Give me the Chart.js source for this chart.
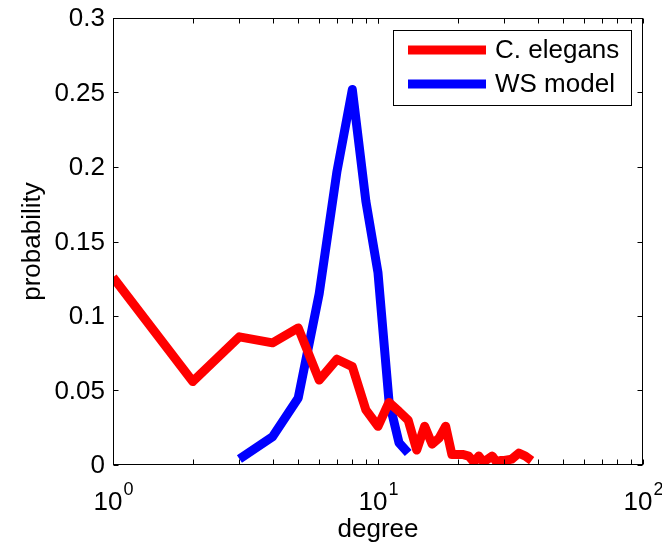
<!DOCTYPE html>
<html>
<head>
<meta charset="utf-8">
<script src="https://cdn.jsdelivr.net/npm/chart.js@4/dist/chart.umd.min.js"></script>
<style>
  html, body { margin: 0; padding: 0; background: #fff; }
  #wrap { width: 662px; height: 545px; }
</style>
</head>
<body>
<div id="wrap"><canvas id="chart" width="662" height="545"></canvas></div>
<script>
// Degree distribution: C. elegans neural network vs. Watts-Strogatz model
const degreeCE = [1, 2, 3, 4, 5, 6, 7, 8, 9, 10, 11, 12, 13, 14, 15, 16, 17, 18, 19, 20, 21, 22, 23, 24, 25, 26, 27, 28, 29, 30, 32, 34, 36, 38];
const probCE   = [0.126, 0.056, 0.086, 0.082, 0.092, 0.057, 0.071, 0.066, 0.037, 0.026, 0.042, 0.036, 0.030, 0.010, 0.026, 0.014, 0.018, 0.026, 0.007, 0.007, 0.007, 0.006, 0.002, 0.006, 0.002, 0.004, 0.006, 0.002, 0.003, 0.003, 0.004, 0.008, 0.006, 0.003];

const degreeWS = [3, 4, 5, 6, 7, 8, 9, 10, 11, 12, 13];
const probWS   = [0.004, 0.019, 0.045, 0.115, 0.197, 0.252, 0.177, 0.129, 0.043, 0.015, 0.008];

const seriesNames  = ['C. elegans', 'WS model'];
const seriesColors = ['#ff0000', '#0000ff'];

const yTickValues = [0, 0.05, 0.1, 0.15, 0.2, 0.25, 0.3];
const yTickLabels = ['0', '0.05', '0.1', '0.15', '0.2', '0.25', '0.3'];
const xDecades    = [1, 10, 100];
const xExponents  = ['0', '1', '2'];
const xTitle = 'degree';
const yTitle = 'probability';

const FONT = "'Liberation Sans', Arial, Helvetica, sans-serif";

const toPoints = (xs, ys) => xs.map((v, i) => ({ x: v, y: ys[i] }));

// Axes box, inward ticks, tick labels, titles and legend
const framePlugin = {
  id: 'frame',
  afterDraw(chart) {
    const { ctx, chartArea: a, scales: { x, y } } = chart;
    const L = Math.round(a.left) + 0.5, R = Math.round(a.right) - 0.5;
    const T = Math.round(a.top) + 0.5, B = Math.round(a.bottom) - 0.5;
    const tick = 5;
    ctx.save();
    ctx.strokeStyle = '#000';
    ctx.lineWidth = 1;
    ctx.strokeRect(L, T, R - L, B - T);

    ctx.beginPath();
    yTickValues.forEach(v => {
      const py = Math.round(y.getPixelForValue(v)) + 0.5;
      ctx.moveTo(L, py); ctx.lineTo(L + tick, py);
      ctx.moveTo(R, py); ctx.lineTo(R - tick, py);
    });
    for (let d = 1; d < 100; d *= 10) {
      for (let m = 1; m <= 10; m++) {
        const px = Math.round(x.getPixelForValue(d * m)) + 0.5;
        ctx.moveTo(px, B); ctx.lineTo(px, B - tick);
        ctx.moveTo(px, T); ctx.lineTo(px, T + tick);
      }
    }
    ctx.stroke();

    ctx.fillStyle = '#000';
    // y tick labels
    ctx.font = `26px ${FONT}`;
    ctx.textAlign = 'right';
    ctx.textBaseline = 'middle';
    yTickValues.forEach((v, i) => {
      ctx.fillText(yTickLabels[i], a.left - 8, y.getPixelForValue(v) + 1);
    });

    // x tick labels as powers of ten
    ctx.textBaseline = 'alphabetic';
    ctx.textAlign = 'left';
    xDecades.forEach((v, i) => {
      ctx.font = `26px ${FONT}`;
      const wBase = ctx.measureText('10').width;
      ctx.font = `18px ${FONT}`;
      const wExp = ctx.measureText(xExponents[i]).width;
      const x0 = x.getPixelForValue(v) - (wBase + wExp) / 2;
      ctx.font = `26px ${FONT}`;
      ctx.fillText('10', x0, 510);
      ctx.font = `18px ${FONT}`;
      ctx.fillText(xExponents[i], x0 + wBase + 1, 495);
    });

    // axis titles
    ctx.font = `26px ${FONT}`;
    ctx.textAlign = 'center';
    ctx.fillText(xTitle, (a.left + a.right) / 2, 537);
    ctx.save();
    ctx.translate(40, (a.top + a.bottom) / 2);
    ctx.rotate(-Math.PI / 2);
    ctx.fillText(yTitle, 0, 0);
    ctx.restore();

    // legend
    const lx = 393.5, ly = 30.5, lw = 238, lh = 75;
    ctx.fillStyle = '#fff';
    ctx.fillRect(lx, ly, lw, lh);
    ctx.strokeRect(lx, ly, lw, lh);
    ctx.textAlign = 'left';
    ctx.textBaseline = 'middle';
    seriesNames.forEach((name, i) => {
      const cy = 50 + i * 34;
      ctx.strokeStyle = seriesColors[i];
      ctx.lineWidth = 9;
      ctx.lineCap = 'butt';
      ctx.beginPath();
      ctx.moveTo(408, cy); ctx.lineTo(486, cy);
      ctx.stroke();
      ctx.fillStyle = '#000';
      ctx.fillText(name, 495, cy + 1);
    });
    ctx.restore();
  }
};

new Chart(document.getElementById('chart'), {
  type: 'line',
  data: {
    datasets: [
      {
        label: seriesNames[0],
        data: toPoints(degreeCE, probCE),
        borderColor: seriesColors[0],
        borderWidth: 9,
        borderJoinStyle: 'round',
        borderCapStyle: 'butt',
        pointRadius: 0,
        fill: false,
        tension: 0,
        clip: 0
      },
      {
        label: seriesNames[1],
        data: toPoints(degreeWS, probWS),
        borderColor: seriesColors[1],
        borderWidth: 9,
        borderJoinStyle: 'round',
        borderCapStyle: 'butt',
        pointRadius: 0,
        fill: false,
        tension: 0,
        clip: 0
      }
    ]
  },
  options: {
    responsive: false,
    animation: false,
    devicePixelRatio: 1,
    layout: { padding: { left: 113, right: 19, top: 18, bottom: 80 } },
    plugins: { legend: { display: false }, tooltip: { enabled: false } },
    scales: {
      x: { type: 'logarithmic', min: 1, max: 100, display: false },
      y: { type: 'linear', min: 0, max: 0.3, display: false }
    }
  },
  plugins: [framePlugin]
});
</script>
</body>
</html>
